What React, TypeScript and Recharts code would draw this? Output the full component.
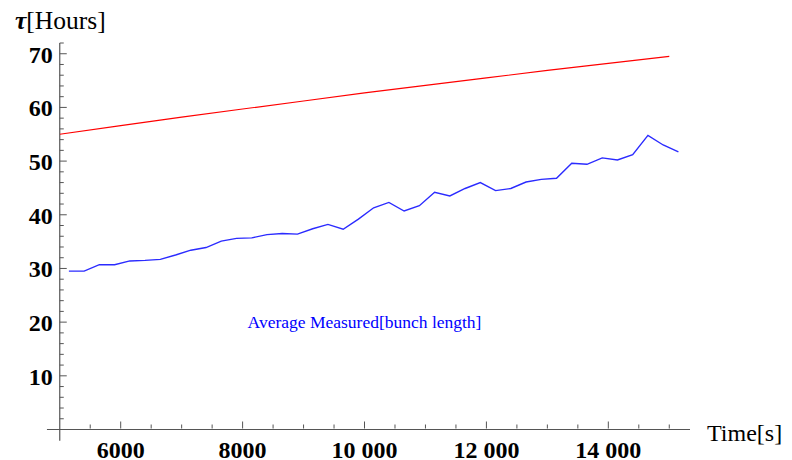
import React from "react";
import { LineChart, Line, XAxis, YAxis, ReferenceLine, ReferenceDot } from "recharts";

// Measured average (blue) — time [s]
const measuredTimes = [
  5150, 5400, 5650, 5900, 6150, 6400, 6650, 6900, 7150, 7400, 7650, 7900, 8150, 8400,
  8650, 8900, 9150, 9400, 9650, 9900, 10150, 10400, 10650, 10900, 11150, 11400, 11650,
  11900, 12150, 12400, 12650, 12900, 13150, 13400, 13650, 13900, 14150, 14400, 14650,
  14900, 15150,
];
const measuredTau = [
  29.5, 29.5, 30.7, 30.7, 31.4, 31.5, 31.7, 32.5, 33.4, 33.9, 35.1, 35.6, 35.7, 36.3,
  36.5, 36.4, 37.4, 38.2, 37.3, 39.2, 41.3, 42.3, 40.7, 41.7, 44.2, 43.5, 44.9,
  46.0, 44.5, 44.9, 46.1, 46.6, 46.8, 49.6, 49.4, 50.6, 50.2, 51.2, 54.8,
  53.0, 51.7,
];

// Model curve (red)
const modelTimes = [5000, 6000, 7000, 8000, 9000, 10000, 11000, 12000, 13000, 14000, 15000];
const modelTau = [55.0, 56.6, 58.2, 59.7, 61.2, 62.7, 64.1, 65.5, 66.9, 68.2, 69.5];

// Axis ticks
const xMinorTicks = [
  5500, 6000, 6500, 7000, 7500, 8000, 8500, 9000, 9500, 10000, 10500, 11000, 11500,
  12000, 12500, 13000, 13500, 14000, 14500, 15000,
];
const xMajorTicks = [6000, 8000, 10000, 12000, 14000];
const xMajorLabels = ["6000", "8000", "10 000", "12 000", "14 000"];
const yMinorTicks = [
  2, 4, 6, 8, 10, 12, 14, 16, 18, 20, 22, 24, 26, 28, 30, 32, 34, 36, 38, 40, 42, 44,
  46, 48, 50, 52, 54, 56, 58, 60, 62, 64, 66, 68, 70, 72,
];
const yMajorTicks = [10, 20, 30, 40, 50, 60, 70];
const yMajorLabels = ["10", "20", "30", "40", "50", "60", "70"];

const xTitle = "Time[s]";
const yTitleSymbol = "τ";
const yTitleRest = "[Hours]";
const seriesLabel = "Average Measured[bunch length]";

const measuredData = measuredTimes.map((t, i) => ({ x: t, y: measuredTau[i] }));
const modelData = modelTimes.map((t, i) => ({ x: t, y: modelTau[i] }));

const AXIS_COLOR = "#555555";
const FONT = "'Liberation Serif', 'Times New Roman', serif";

const renderXTick = (props: any) => {
  const { x, payload } = props;
  const y = props.y - 1;
  const idx = xMajorTicks.indexOf(payload.value);
  const major = idx >= 0;
  return (
    <g key={`xt-${payload.value}`}>
      <line x1={x} y1={y} x2={x} y2={y - (major ? 7 : 4)} stroke={AXIS_COLOR} strokeWidth={1} />
      {major && (
        <text x={x} y={y + 29} textAnchor="middle" fontFamily={FONT} fontWeight="bold" fontSize={24} fill="#000">
          {xMajorLabels[idx]}
        </text>
      )}
    </g>
  );
};

const renderYTick = (props: any) => {
  const { x, y, payload } = props;
  const idx = yMajorTicks.indexOf(payload.value);
  const major = idx >= 0;
  return (
    <g key={`yt-${payload.value}`}>
      <line x1={x} y1={y} x2={x + (major ? 7 : 4)} y2={y} stroke={AXIS_COLOR} strokeWidth={1} />
      {major && (
        <text x={x - 7} y={y + 9} textAnchor="end" fontFamily={FONT} fontWeight="bold" fontSize={24} fill="#000">
          {yMajorLabels[idx]}
        </text>
      )}
    </g>
  );
};

const SeriesLabel = (props: any) => {
  const { viewBox } = props;
  const cx = viewBox.x + (viewBox.width || 0) / 2;
  const cy = viewBox.y + (viewBox.height || 0) / 2;
  return (
    <text x={cx} y={cy + 6} textAnchor="middle" fontFamily={FONT} fontSize={17.5} fill="#0000ff">
      {seriesLabel}
    </text>
  );
};

export default function App() {
  return (
    <div style={{ position: "absolute", left: 0, top: 0, width: 792, height: 460, background: "#fff" }}>
      <LineChart
        width={792}
        height={460}
        margin={{ top: 43, right: 102, bottom: 29.5, left: 58.75 }}
      >
        <XAxis
          type="number"
          dataKey="x"
          domain={[5000, 15340]}
          allowDataOverflow
          ticks={xMinorTicks}
          interval={0}
          height={1}
          axisLine={false}
          tickLine={false}
          tickSize={0}
          tickMargin={0}
          tick={renderXTick}
        />
        <YAxis
          type="number"
          dataKey="y"
          domain={[0, 72]}
          allowDataOverflow
          ticks={yMinorTicks}
          interval={0}
          width={1}
          axisLine={false}
          tickLine={false}
          tickSize={0}
          tickMargin={0}
          tick={renderYTick}
        />
        <ReferenceLine
          segment={[{ x: 4790, y: 0 }, { x: 15340, y: 0 }]}
          stroke={AXIS_COLOR}
          strokeWidth={1.2}
          ifOverflow="visible"
        />
        <ReferenceLine
          segment={[{ x: 5000, y: -2.1 }, { x: 5000, y: 72 }]}
          stroke={AXIS_COLOR}
          strokeWidth={1.2}
          ifOverflow="visible"
        />
        <Line
          data={modelData}
          dataKey="y"
          type="linear"
          stroke="#ff0000"
          strokeWidth={1.2}
          dot={false}
          isAnimationActive={false}
        />
        <Line
          data={measuredData}
          dataKey="y"
          type="linear"
          stroke="#2b2bff"
          strokeWidth={1.4}
          dot={false}
          isAnimationActive={false}
        />
        <ReferenceDot x={10000} y={20} r={0} ifOverflow="visible" label={<SeriesLabel />} />
      </LineChart>
      <svg width={792} height={460} style={{ position: "absolute", left: 0, top: 0, pointerEvents: "none" }}>
        <text x={15} y={29} fontFamily={FONT} fontSize={25.5} fill="#000">
          <tspan fontStyle="italic" fontWeight="bold">{yTitleSymbol}</tspan>
          <tspan>{yTitleRest}</tspan>
        </text>
        <text x={707} y={441} fontFamily={FONT} fontSize={24} fill="#000">
          {xTitle}
        </text>
      </svg>
    </div>
  );
}
